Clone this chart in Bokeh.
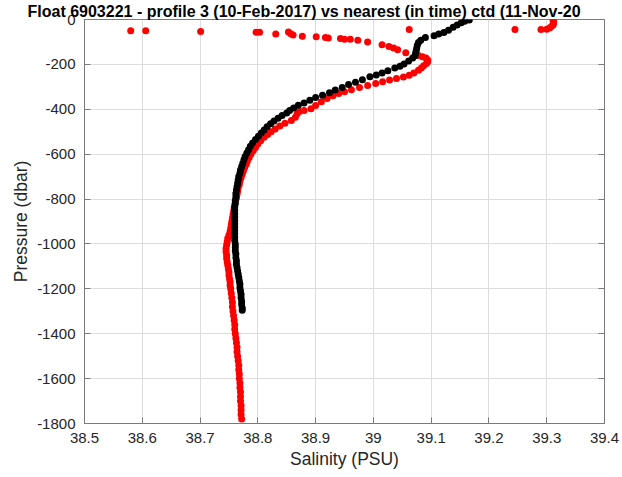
from bokeh.plotting import figure
from bokeh.models import LinearAxis, FixedTicker
from bokeh.embed import file_html
from bokeh.resources import INLINE

title_text = "Float 6903221 - profile 3 (10-Feb-2017) vs nearest (in time) ctd (11-Nov-20"
x_label = "Salinity (PSU)"
y_label = "Pressure (dbar)"

x_ticks = [38.5, 38.6, 38.7, 38.8, 38.9, 39.0, 39.1, 39.2, 39.3, 39.4]
x_tick_labels = ["38.5", "38.6", "38.7", "38.8", "38.9", "39", "39.1", "39.2", "39.3", "39.4"]
y_ticks = [0, -200, -400, -600, -800, -1000, -1200, -1400, -1600, -1800]
y_tick_labels = ["0", "-200", "-400", "-600", "-800", "-1000", "-1200", "-1400", "-1600", "-1800"]

# Float profile (red)
float_salinity = [
    39.311, 39.312, 39.312, 39.311, 39.308, 39.305, 39.300, 39.290, 39.245, 39.062,
    38.580, 38.606, 38.701, 38.797, 38.803, 38.831, 38.853, 38.857, 38.861, 38.877,
    38.901, 38.917, 38.922, 38.943, 38.950, 38.960, 38.973, 38.990, 39.015, 39.027,
    39.035, 39.042, 39.056, 39.078, 39.085, 39.091, 39.094, 39.094, 39.092, 39.087,
    39.083, 39.078, 39.070, 39.062, 39.052, 39.040, 39.028, 39.016, 39.004, 38.990,
    38.976, 38.962, 38.950, 38.940, 38.930, 38.920, 38.910, 38.900, 38.892, 38.880,
    38.872, 38.868, 38.865, 38.858, 38.847, 38.838, 38.830, 38.823, 38.817, 38.811,
    38.805, 38.800, 38.796, 38.792, 38.788, 38.785, 38.782, 38.780, 38.777, 38.775,
    38.773, 38.771, 38.769, 38.768, 38.766, 38.765, 38.764, 38.763, 38.761, 38.760,
    38.759, 38.758, 38.757, 38.756, 38.755, 38.754, 38.753, 38.752, 38.750, 38.748,
    38.747, 38.746, 38.745, 38.745, 38.746, 38.746, 38.747, 38.748, 38.749, 38.750,
    38.750, 38.751, 38.752, 38.752, 38.753, 38.754, 38.755, 38.756, 38.756, 38.757,
    38.758, 38.759, 38.760, 38.760, 38.761, 38.762, 38.763, 38.764, 38.764, 38.765,
    38.766, 38.767, 38.767, 38.768, 38.768, 38.769, 38.769, 38.770, 38.770, 38.770,
    38.771, 38.771, 38.771, 38.772,
]
float_pressure = [
    -4, -10, -17, -24, -31, -38, -43, -44, -45, -45,
    -50, -50, -53, -57, -57, -65, -56, -63, -69, -75,
    -77, -80, -82, -85, -88, -88, -92, -100, -112, -120,
    -127, -135, -148, -160, -166, -172, -180, -188, -196, -206,
    -216, -226, -238, -248, -256, -263, -270, -277, -285, -294,
    -303, -313, -322, -330, -340, -352, -366, -383, -398, -405,
    -410, -420, -435, -450, -462, -475, -488, -500, -512, -525,
    -540, -555, -570, -585, -600, -615, -630, -645, -660, -675,
    -690, -705, -720, -735, -750, -765, -780, -795, -810, -825,
    -840, -855, -870, -885, -900, -915, -930, -945, -960, -975,
    -990, -1005, -1020, -1035, -1050, -1065, -1080, -1095, -1110, -1125,
    -1140, -1155, -1170, -1185, -1200, -1220, -1240, -1260, -1280, -1300,
    -1320, -1340, -1360, -1380, -1400, -1420, -1440, -1460, -1480, -1500,
    -1520, -1540, -1560, -1580, -1600, -1620, -1640, -1660, -1680, -1700,
    -1720, -1740, -1760, -1780,
]

# Nearest CTD cast (black)
ctd_salinity = [
    39.166, 39.158, 39.152, 39.145, 39.138, 39.130, 39.122, 39.113, 39.105, 39.090,
    39.082, 39.078, 39.076, 39.075, 39.074, 39.073, 39.072, 39.068, 39.061, 39.053,
    39.046, 39.037, 39.025, 39.015, 39.005, 38.994, 38.981, 38.969, 38.957, 38.946,
    38.934, 38.924, 38.912, 38.900, 38.890, 38.880, 38.870, 38.862, 38.855, 38.850,
    38.842, 38.835, 38.828, 38.822, 38.816, 38.811, 38.806, 38.801, 38.796, 38.791,
    38.787, 38.784, 38.781, 38.778, 38.776, 38.774, 38.772, 38.770, 38.769, 38.767,
    38.766, 38.765, 38.764, 38.763, 38.762, 38.762, 38.761, 38.761, 38.760, 38.760,
    38.760, 38.760, 38.760, 38.760, 38.760, 38.760, 38.760, 38.760, 38.760, 38.761,
    38.761, 38.761, 38.762, 38.762, 38.763, 38.763, 38.764, 38.765, 38.766, 38.767,
    38.768, 38.769, 38.769, 38.770, 38.771, 38.771, 38.772, 38.772, 38.773, 38.773,
]
ctd_pressure = [
    -2, -8, -15, -24, -35, -48, -58, -65, -72, -80,
    -92, -103, -115, -128, -140, -152, -162, -172, -185, -198,
    -208, -216, -228, -238, -247, -255, -268, -280, -290, -303,
    -314, -326, -337, -348, -360, -372, -382, -394, -405, -417,
    -428, -440, -452, -465, -478, -492, -506, -520, -535, -550,
    -565, -580, -595, -610, -625, -640, -655, -670, -685, -700,
    -715, -730, -745, -760, -775, -790, -805, -820, -835, -850,
    -865, -880, -895, -910, -925, -940, -955, -970, -985, -1000,
    -1015, -1030, -1045, -1060, -1075, -1090, -1105, -1120, -1135, -1150,
    -1165, -1180, -1195, -1210, -1225, -1240, -1255, -1270, -1285, -1295,
]

FONT = "Liberation Sans"
AXIS_COLOR = "#7a7a7a"
TEXT_COLOR = "#262626"

p = figure(
    width=622, height=477,
    x_range=(38.5, 39.4), y_range=(-1800, 0),
    output_backend="svg", toolbar_location=None,
    min_border_left=84, min_border_right=18, min_border_top=0, min_border_bottom=54,
    background_fill_color="white", border_fill_color="white",
)

# Title (drawn in the top panel so it is not clipped by the frame)
p.title.text = title_text
p.title.text_font = FONT
p.title.text_font_size = "16px"
p.title.text_font_style = "bold"
p.title.text_color = "#000000"
p.title.align = "left"
p.title.offset = -57
p.title.standoff = 0
p.title.vertical_align = "bottom"

p.outline_line_color = AXIS_COLOR
p.outline_line_width = 1

xt = FixedTicker(ticks=x_ticks)
yt = FixedTicker(ticks=y_ticks)

for ax in [p.xaxis[0], p.yaxis[0]]:
    ax.major_tick_in = 6
    ax.major_tick_out = 0
    ax.minor_tick_line_color = None
    ax.axis_line_color = AXIS_COLOR
    ax.major_tick_line_color = AXIS_COLOR
    ax.major_label_text_font = FONT
    ax.major_label_text_font_size = "15px"
    ax.major_label_text_color = TEXT_COLOR
    ax.axis_label_text_font = FONT
    ax.axis_label_text_font_size = "17.5px"
    ax.axis_label_text_font_style = "normal"
    ax.axis_label_text_color = TEXT_COLOR

p.xaxis[0].ticker = xt
p.xaxis[0].major_label_overrides = dict(zip(x_ticks, x_tick_labels))
p.xaxis[0].major_label_standoff = 9
p.xaxis[0].axis_label = x_label
p.xaxis[0].axis_label_standoff = 3

p.yaxis[0].ticker = yt
p.yaxis[0].major_label_overrides = dict(zip(y_ticks, y_tick_labels))
p.yaxis[0].major_label_standoff = 9
p.yaxis[0].axis_label = y_label
p.yaxis[0].axis_label_standoff = 3

# Inward ticks on the right edge (box on), no labels
right_ax = LinearAxis(ticker=yt, major_label_text_color=None, major_label_text_font_size="1px",
                      major_label_standoff=0, major_tick_in=6, major_tick_out=0,
                      minor_tick_line_color=None, axis_line_color=AXIS_COLOR,
                      major_tick_line_color=AXIS_COLOR)
p.add_layout(right_ax, "right")

p.xgrid.ticker = xt
p.ygrid.ticker = yt
p.xgrid.grid_line_color = "#dcdcdc"
p.ygrid.grid_line_color = "#dcdcdc"

p.scatter(float_salinity, float_pressure, size=7, fill_color="#ff0000", line_color=None)
p.scatter(ctd_salinity, ctd_pressure, size=7, fill_color="#000000", line_color=None)

open("out.html", "w").write(file_html(p, INLINE))
